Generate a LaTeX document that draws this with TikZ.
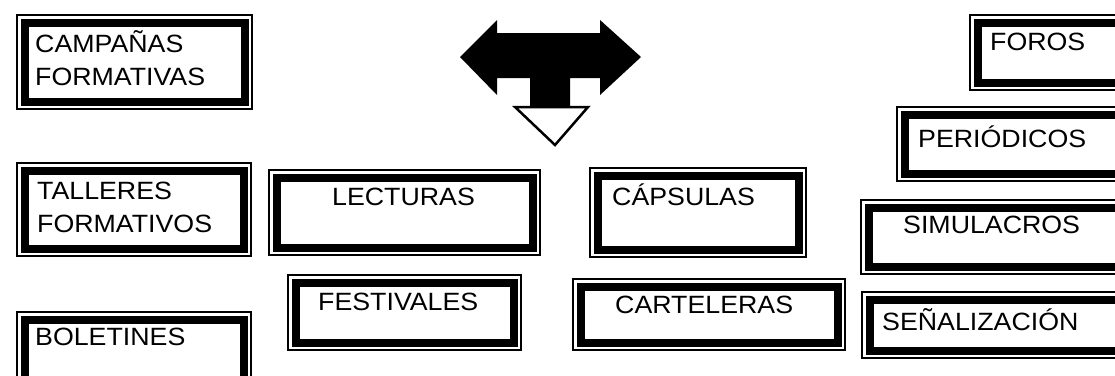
\documentclass[tikz,border=0pt]{standalone}
\usepackage{fontspec}
\setmainfont{Liberation Sans}[FakeStretch=1.07]
\begin{document}
\begin{tikzpicture}[x=1pt,y=-1pt,
        caja/.style={rectangle, anchor=north west, inner sep=0pt, fill=white, draw=black, line width=8pt,
            preaction={draw=black, line width=17pt},
            preaction={draw=white, line width=13pt}},
        texto/.style={anchor=base west, inner sep=0pt, align=left, font=\fontsize{25}{33}\selectfont}]
    \useasboundingbox (0,0) rectangle (1115,375);
    % cajas: esquina exterior + 8.5
    \node[caja, minimum width=220, minimum height=79] (campanas) at (20.5,18.5) {};
    \node[caja, minimum width=219, minimum height=78] (talleres) at (20.5,166.5) {};
    \node[caja, minimum width=219, minimum height=78] (boletines) at (20.5,315.5) {};
    \node[caja, minimum width=256, minimum height=70] (lecturas) at (272.5,173.5) {};
    \node[caja, minimum width=218, minimum height=60] (festivales) at (291.5,278.5) {};
    \node[caja, minimum width=201, minimum height=74] (capsulas) at (593.5,171.5) {};
    \node[caja, minimum width=257, minimum height=56] (carteleras) at (576.5,282.5) {};
    \node[caja, minimum width=200, minimum height=60] (foros) at (973.5,18.5) {};
    \node[caja, minimum width=230, minimum height=59] (periodicos) at (900.5,110.5) {};
    \node[caja, minimum width=270, minimum height=59] (simulacros) at (864.5,203.5) {};
    \node[caja, minimum width=270, minimum height=51] (senalizacion) at (865.5,295.5) {};
    % textos (base = ultima linea)
    \node[texto] (campanasT) at (35,85) {CAMPAÑAS\\FORMATIVAS};
    \node[texto] (talleresT) at (37,232) {TALLERES\\FORMATIVOS};
    \node[texto] (boletinesT) at (35,345) {BOLETINES};
    \node[texto] (lecturasT) at (332,205) {LECTURAS};
    \node[texto] (festivalesT) at (318,310) {FESTIVALES};
    \node[texto] (capsulasT) at (612,205) {CÁPSULAS};
    \node[texto] (cartelerasT) at (615,313) {CARTELERAS};
    \node[texto] (forosT) at (990,50) {FOROS};
    \node[texto] (periodicosT) at (918,147) {PERIÓDICOS};
    \node[texto] (simulacrosT) at (903,233) {SIMULACROS};
    \node[texto] (senalizacionT) at (882,330) {SEÑALIZACIÓN};
    % flecha
    \fill (460,57) -- (497,20) -- (497,33) -- (600,33) -- (600,20) -- (641,57) -- (600,95) -- (600,78)
        -- (570,78) -- (570,107) -- (530,107) -- (530,78) -- (497,78) -- (497,95) -- cycle;
    \draw[line width=2.5pt, fill=white, line join=miter] (515,107) -- (588,107) -- (555,145) -- cycle;
\end{tikzpicture}
\end{document}
